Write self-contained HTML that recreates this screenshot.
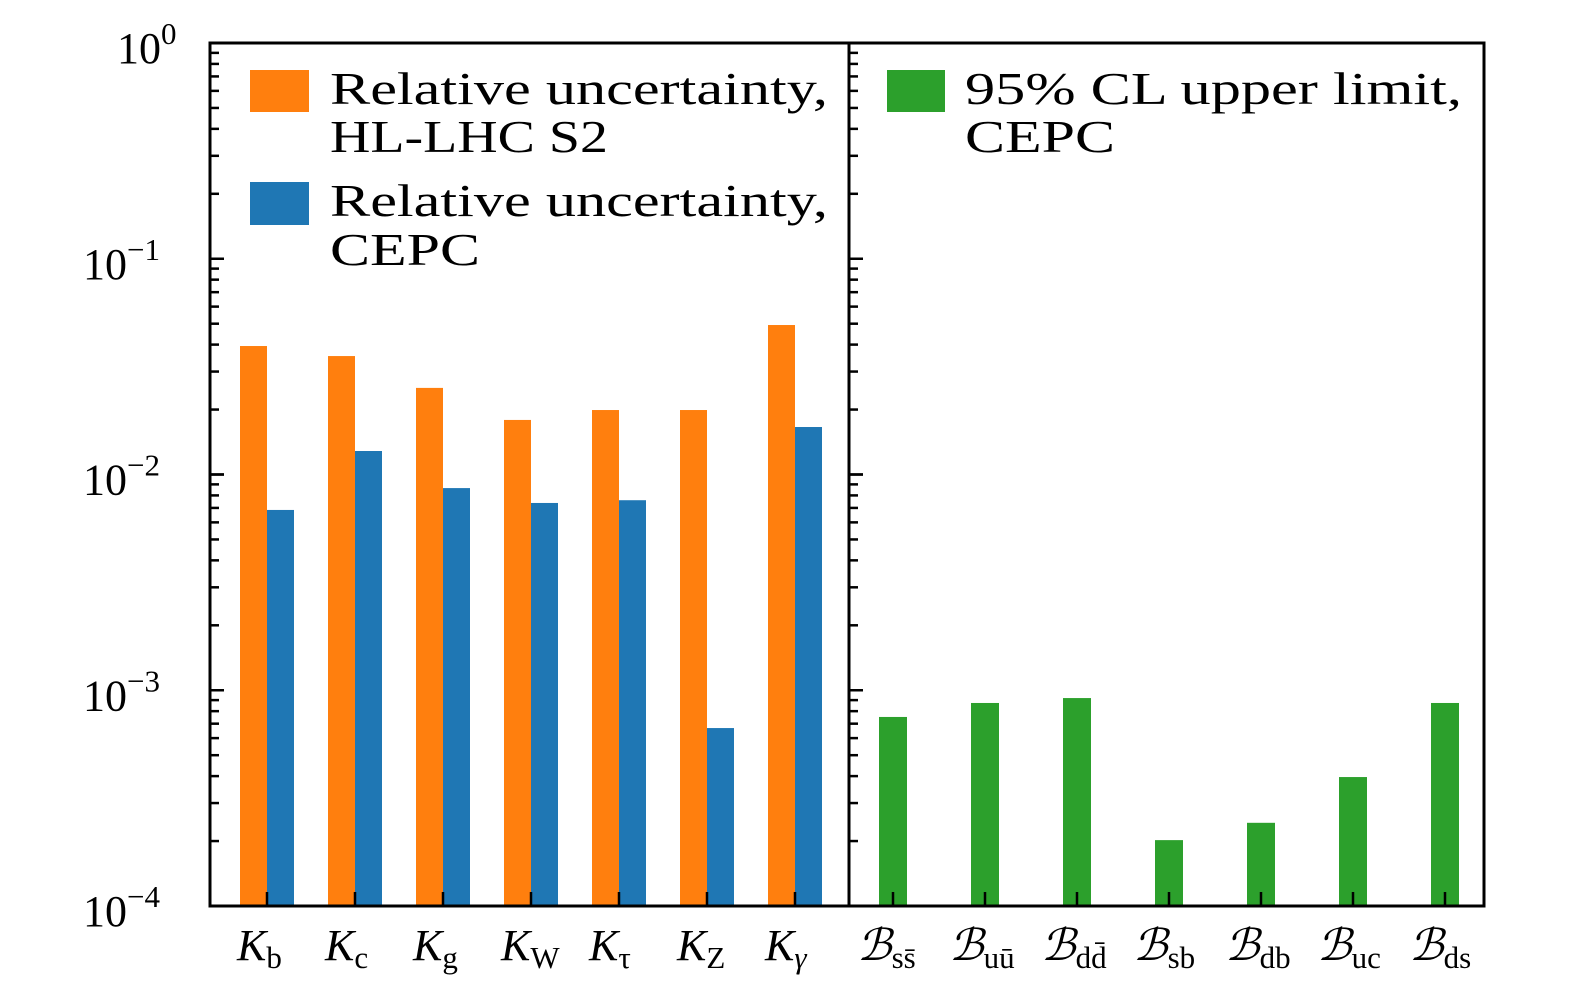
<!DOCTYPE html>
<html><head><meta charset="utf-8">
<style>
html,body{margin:0;padding:0;background:#fff;}
svg{display:block;font-family:"Liberation Serif","DejaVu Serif",serif;}
</style></head>
<body>
<svg id="chart" width="1575" height="994" viewBox="0 0 1575 994" xmlns="http://www.w3.org/2000/svg">
<rect x="0" y="0" width="1575" height="994" fill="#fff"/>
<g id="bars"></g>
<g id="ticks"></g>
<g id="frame" fill="none" stroke="#000" stroke-width="3">
  <rect x="210" y="43" width="1274" height="863"/>
  <line x1="849" y1="43" x2="849" y2="906"/>
</g>
<g id="ylabels" font-size="44"></g>
<g id="xlabels" font-size="44"></g>
<g>
  <rect x="250" y="70" width="59" height="42" fill="#ff7f0e"/>
  <text font-size="46" x="330" y="104" textLength="498" lengthAdjust="spacingAndGlyphs">Relative uncertainty,</text>
  <text font-size="46" x="330" y="152" textLength="278" lengthAdjust="spacingAndGlyphs">HL-LHC S2</text>
  <rect x="250" y="182" width="59" height="43" fill="#1f77b4"/>
  <text font-size="46" x="330" y="216" textLength="498" lengthAdjust="spacingAndGlyphs">Relative uncertainty,</text>
  <text font-size="46" x="330" y="265" textLength="150" lengthAdjust="spacingAndGlyphs">CEPC</text>
</g>
<g>
  <rect x="887" y="70" width="58" height="42" fill="#2ca02c"/>
  <text font-size="46" x="965" y="104" textLength="497" lengthAdjust="spacingAndGlyphs">95% CL upper limit,</text>
  <text font-size="46" x="965" y="152" textLength="150" lengthAdjust="spacingAndGlyphs">CEPC</text>
</g>
</svg>
<script>
const kCats = ["b","c","g","W","τ","Z","γ"];
const hlValues = [0.0394,0.0354,0.0252,0.0179,0.0199,0.0199,0.0493];
const cepcValues = [0.00685,0.01285,0.00865,0.00738,0.0076,0.000668,0.0166];
const bCats = ["ss̄","uū","dd̄","sb","db","uc","ds"];
const limitValues = [0.000752,0.000873,0.00092,0.000202,0.000243,0.000396,0.000873];
const yTickExps = [0,-1,-2,-3,-4];

const NS="http://www.w3.org/2000/svg";
const yTop=43, yBot=906, decades=4;
function y(v){ return yTop + (-Math.log10(v))*(yBot-yTop)/decades; }
function xLeft(i){ return 267 + i*88; }
function xRight(i){ return 893 + i*92; }
const W=27;
function mk(tag,attrs,parent){const e=document.createElementNS(NS,tag);for(const k in attrs)e.setAttribute(k,attrs[k]);parent.appendChild(e);return e;}
const bars=document.getElementById('bars');
kCats.forEach((c,i)=>{
  const yo=y(hlValues[i]);
  const r1=mk('rect',{x:xLeft(i)-W,y:yo,width:W,height:yBot-yo,fill:'#ff7f0e'},bars);
  
  
  const yb=y(cepcValues[i]);
  const r2=mk('rect',{x:xLeft(i),y:yb,width:W,height:yBot-yb,fill:'#1f77b4'},bars);
  
  
});
bCats.forEach((c,i)=>{
  const yg=y(limitValues[i]);
  const r=mk('rect',{x:xRight(i)-14,y:yg,width:28,height:yBot-yg,fill:'#2ca02c'},bars);
  
  
});
const ticks=document.getElementById('ticks');


for(let d=0;d<decades;d++){
  for(let m=1;m<=10;m++){
    const v=Math.pow(10,-(d+1))*m;
    const yy=y(v);
    const len=(m===1||m===10)?14:9;
    mk('line',{x1:210,x2:210+len,y1:yy,y2:yy,stroke:'#000','stroke-width':2.5},ticks);
    mk('line',{x1:849,x2:849+len,y1:yy,y2:yy,stroke:'#000','stroke-width':2.5},ticks);
  }
}
kCats.forEach((c,i)=>mk('line',{x1:xLeft(i),x2:xLeft(i),y1:yBot,y2:yBot-14,stroke:'#000','stroke-width':2.5},ticks));
bCats.forEach((c,i)=>mk('line',{x1:xRight(i),x2:xRight(i),y1:yBot,y2:yBot-14,stroke:'#000','stroke-width':2.5},ticks));
const yl=document.getElementById('ylabels');
yTickExps.forEach(e=>{
  const t=mk('text',{x:e===0?117:83,y:y(Math.pow(10,e))+20},yl);
  
  
  t.textContent='10';
  const s=mk('tspan',{dy:-19,'font-size':31},t);
  s.textContent=e===0?'0':'−'+(-e);
});
const xl=document.getElementById('xlabels');
kCats.forEach((c,i)=>{
  const t=mk('text',{x:xLeft(i)-30,y:960,'font-style':'italic'},xl);
  
  
  t.textContent='K';
  const s=mk('tspan',{dy:8,'font-size':31,'font-style':(c==='γ')?'italic':'normal'},t);
  s.textContent=c;
});
bCats.forEach((c,i)=>{
  const t=mk('text',{x:xRight(i)-36,y:960,'font-style':'italic','font-family':'"DejaVu Serif",serif'},xl);
  
  
  t.textContent='ℬ';
  const s=mk('tspan',{dy:8,'font-size':31,'font-style':'normal','font-family':'"Liberation Serif",serif'},t);
  s.textContent=c;
});
</script>
</body></html>
